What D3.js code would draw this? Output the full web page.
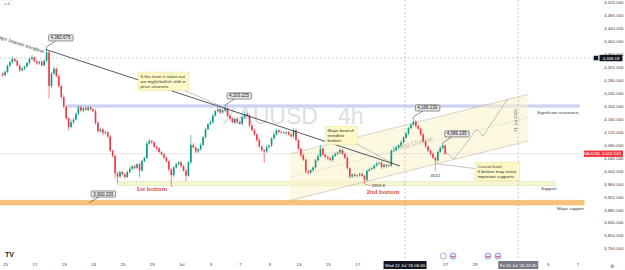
<!DOCTYPE html>
<html>
<head>
<meta charset="utf-8">
<script src="https://cdn.jsdelivr.net/npm/d3@7"></script>
<style>
html, body { margin: 0; padding: 0; background: #fff; }
svg { display: block; font-family: "Liberation Sans", Arial, sans-serif; }
</style>
</head>
<body>
<div id="chart"></div>
<script>
// ---- data (XAUUSD 4h) ----
const firstOpen = 4300;
const closes = [
  4295,4305,4325,4335,4345,4340,4325,4310,4315,4322,
  4333,4345,4350,4338,4332,4336,4326,4340,4366,4262,
  4300,4315,4292,4262,4228,4198,4162,4135,4150,4158,
  4176,4196,4186,4193,4188,4195,4190,4184,4148,4122,
  4128,4116,4119,4106,4062,4046,3992,3982,3996,3989,
  3981,3996,4006,4014,4009,4020,4001,4030,4040,4084,
  4092,4088,4074,4069,4058,4050,4040,4029,4004,3986,
  4010,4020,4026,4015,4000,3985,4026,4080,4072,4060,
  4066,4080,4104,4128,4144,4150,4170,4184,4190,4180,
  4186,4193,4170,4160,4150,4160,4150,4145,4165,4175,
  4170,4140,4125,4112,4095,4075,4064,4060,4073,4078,
  4100,4112,4125,4120,4118,4116,4119,4112,4106,4125,
  4095,4068,4048,4034,3998,3994,4002,4010,4032,4045,
  4068,4050,4042,4038,4033,4046,4052,4056,4064,4052,
  4040,4008,3982,3988,3984,3986,3990,3984,3972,4000,
  4005,4008,4016,4022,4025,4012,4018,4014,4016,4062,
  4064,4072,4078,4088,4102,4115,4132,4142,4152,4138,
  4130,4112,4090,4075,4062,4052,4040,4032,4058,4070,
  4078,4052.545
];
// wick length above / below the candle body, in dollars
const wickHi = [
  4,6,3,5,8,4,3,5,6,3, 5,4,7,3,5,4,6,3,17,4, 6,7,4,5,3,8,6,4,9,5,
  4,6,5,3,7,4,5,3,6,4, 5,3,6,4,5,3,4,6,5,4, 3,5,7,4,6,3,5,4,3,6,
  6,4,3,5,4,3,5,4,3,5, 4,6,3,5,4,5,4,30,5,3, 4,6,3,5,4,6,5,3,7,4,
  5,10,4,3,5,4,6,3,5,7, 5,4,3,5,4,6,3,4,5,3, 4,6,5,3,4,5,3,4,5,8,
  5,4,3,5,4,6,3,4,5,6, 12,4,3,5,4,3,5,4,6,3, 4,5,3,4,6,3,4,5,3,4,
  5,3,4,6,3,5,4,3,5,4, 6,3,4,5,4,5,3,4,14,5, 4,3,5,4,3,4,5,3,4,6,
  8,3
];
const wickLo = [
  5,3,4,6,3,5,4,6,3,4, 3,5,4,3,6,4,3,5,4,40, 7,4,5,6,8,5,7,10,4,6,
  3,5,4,6,3,5,4,3,6,5, 4,6,3,5,4,6,17,20,5,4, 6,4,5,3,6,4,21,5,4,3,
  4,5,3,6,4,3,5,4,6,36, 5,3,4,6,3,17,4,5,3,6, 5,3,4,5,3,4,6,3,4,5,
  3,5,4,6,3,5,4,3,5,4, 4,5,3,4,6,5,4,36,5,4, 5,4,3,6,4,3,5,4,3,5,
  4,5,6,4,5,6,3,5,4,3, 4,5,3,6,4,5,3,4,5,3, 4,5,6,4,3,5,4,3,12,5,
  4,3,5,4,3,6,4,5,3,4, 5,4,3,5,4,3,5,4,3,5, 4,5,3,6,4,5,3,10,4,3,
  4,3
];

const priceTicks = [4520,4480,4440,4400,4360,4320,4280,4240,4200,4160,4120,4080,4040,4000,3960,3920,3880,3840,3800,3760];
// trading-day index (0 = Jun 15) and its label
const dayTicks  = [0,2,4,6,8,10,12,14,16,18,20,22,24,30,32,37,39];
const dayLabels = ["15","17","19","23","25","29","Jul","3","7","9","13","15","17","27","29","5","7"];

const resistanceZone = [4195, 4205];
const supportZone = [3955, 3966];
const majorSupportZone = [3893, 3910];
const bearTrend = [[17.5, 4375], [162.5, 4015]];
const channelUpper = [[117.5, 4052], [215, 4236]];
const channelLower = [[117.5, 3908], [215, 4092]];
const projection = [[181, 4058], [184.6, 4036], [194, 4129], [196.5, 4107], [206.7, 4223]];
const priceCallouts = [
  [18, 4382.675], [91, 4203.225], [168, 4166.13], [180, 4086.195], [35.4, 3900.339]
];
const lastPrice = 4052.545;
const crossPrice = 4348.18;

// ---- chart setup ----
const W = 625, H = 270, plotBottom = 260, axisLeft = 600;
const up = "#089981", down = "#f23645";

const svg = d3.select("#chart").append("svg")
    .attr("width", W).attr("height", H);

const x = d3.scaleLinear().domain([0, 100]).range([2.6, 247.1]);   // bar index
const y = d3.scaleLinear().domain([3724.3, 4527.5]).range([plotBottom, 0]);
const xDay = d => x(6 * d + 1);

const candles = closes.map((c, i) => {
    const o = i === 0 ? firstOpen : closes[i - 1];
    return { i, o, c, h: Math.max(o, c) + wickHi[i], l: Math.min(o, c) - wickLo[i] };
});

// zones
function zone(z, b0, b1, fill, stroke) {
    svg.append("rect")
        .attr("x", x(b0)).attr("width", x(b1) - x(b0))
        .attr("y", y(z[1])).attr("height", y(z[0]) - y(z[1]))
        .attr("fill", fill).attr("stroke", stroke || "none").attr("stroke-width", 0.5);
}
zone(majorSupportZone, -2, 238, "#f6c27c");
zone(resistanceZone, 26.4, 236, "#cfd1f3");
zone(supportZone, 47, 226, "#f5f5d2", "#dcdca6");

// rising channel
const chan = [channelUpper[0], channelUpper[1], channelLower[1], channelLower[0]];
svg.append("path")
    .attr("d", d3.line().x(d => x(d[0])).y(d => y(d[1]))(chan) + "Z")
    .attr("fill", "#fbf3c8").attr("opacity", 0.55);

// crosshair / vertical markers
svg.append("line").attr("x1", 0).attr("x2", axisLeft).attr("y1", y(crossPrice)).attr("y2", y(crossPrice))
    .attr("stroke", "#9598a1").attr("stroke-width", 0.5).attr("stroke-dasharray", "2,2");
[164.6, 210.9].forEach(b => {
    svg.append("line").attr("x1", x(b)).attr("x2", x(b)).attr("y1", 0).attr("y2", plotBottom)
        .attr("stroke", "#9598a1").attr("stroke-width", 0.5).attr("stroke-dasharray", "2,2");
});
// last price line
svg.append("line").attr("x1", 0).attr("x2", axisLeft).attr("y1", y(lastPrice)).attr("y2", y(lastPrice))
    .attr("stroke", "#e3d3d6").attr("stroke-width", 0.6);

// watermark
svg.append("text").attr("x", 222).attr("y", 124).attr("font-size", 23).attr("fill", "#dcdee4").text("XAUUSD");
svg.append("text").attr("x", 338).attr("y", 124).attr("font-size", 23).attr("fill", "#dcdee4").text("4h");

// channel lines
const line = d3.line().x(d => x(d[0])).y(d => y(d[1]));
svg.append("path").attr("d", line(channelUpper)).attr("stroke", "#b8b8a8").attr("stroke-width", 0.6).attr("fill", "none");
svg.append("path").attr("d", line(channelLower)).attr("stroke", "#b8b8a8").attr("stroke-width", 0.6).attr("fill", "none");
const mid = [[channelUpper[0][0], (channelUpper[0][1] + channelLower[0][1]) / 2],
             [channelUpper[1][0], (channelUpper[1][1] + channelLower[1][1]) / 2]];
svg.append("path").attr("d", line(mid)).attr("stroke", "#b8b8a8").attr("stroke-width", 0.5)
    .attr("stroke-dasharray", "2,2").attr("fill", "none");
const chAng = Math.atan2(y(mid[1][1]) - y(mid[0][1]), x(mid[1][0]) - x(mid[0][0])) * 180 / Math.PI;
const rcB = 168, rcP = mid[0][1] + (rcB - mid[0][0]) / (mid[1][0] - mid[0][0]) * (mid[1][1] - mid[0][1]);
svg.append("text").attr("transform", `translate(${x(rcB)},${y(rcP) - 1}) rotate(${chAng})`)
    .attr("text-anchor", "middle").attr("font-size", 6).attr("fill", "#bdbdb0").text("Rising Channel");

// candles
svg.append("g").selectAll("line").data(candles).join("line")
    .attr("x1", d => x(d.i)).attr("x2", d => x(d.i))
    .attr("y1", d => y(d.h)).attr("y2", d => y(d.l))
    .attr("stroke", d => d.c >= d.o ? up : down).attr("stroke-width", 0.6);
svg.append("g").selectAll("rect").data(candles).join("rect")
    .attr("x", d => x(d.i) - 0.8).attr("width", 1.6)
    .attr("y", d => y(Math.max(d.o, d.c)))
    .attr("height", d => Math.max(0.6, Math.abs(y(d.o) - y(d.c))))
    .attr("fill", d => d.c >= d.o ? up : down);

// bearish trendline
svg.append("path").attr("d", line(bearTrend)).attr("stroke", "#2a2e39").attr("stroke-width", 0.8).attr("fill", "none");
const trAng = Math.atan2(y(bearTrend[1][1]) - y(bearTrend[0][1]), x(bearTrend[1][0]) - x(bearTrend[0][0])) * 180 / Math.PI;
svg.append("text").attr("transform", `translate(${x(bearTrend[0][0]) - 2},${y(bearTrend[0][1]) + 4}) rotate(${trAng})`)
    .attr("text-anchor", "end").attr("font-size", 5).attr("fill", "#444").text("Major bearish trendline");

// projection path
svg.append("path").attr("d", line(projection)).attr("stroke", "#8a8a8a").attr("stroke-width", 0.5).attr("fill", "none");

// zone labels
const lbl = (tx, ty, t, size, color, weight) => svg.append("text").attr("x", tx).attr("y", ty)
    .attr("font-size", size).attr("fill", color).attr("font-weight", weight || "normal").text(t);
lbl(537, y(4197) + 7, "Significant resistance", 4.4, "#333");
lbl(541, y(supportZone[0]) + 5, "Support", 4.4, "#333");
lbl(557, y(majorSupportZone[0]) + 5, "Major support", 4.4, "#333");
svg.append("text").attr("x", x(61)).attr("y", y(3937)).attr("text-anchor", "middle").attr("font-size", 6)
    .attr("font-weight", "bold").attr("fill", "#e0485b").text("1st bottom");
svg.append("text").attr("x", x(155.6)).attr("y", y(3928)).attr("text-anchor", "middle").attr("font-size", 6)
    .attr("font-weight", "bold").attr("fill", "#e0485b").text("2nd bottom");

// low markers
svg.append("line").attr("x1", x(148)).attr("y1", y(3959.8)).attr("x2", x(148) + 6).attr("y2", y(3959.8) + 2)
    .attr("stroke", "#555").attr("stroke-width", 0.4);
svg.append("text").attr("x", x(148) + 7).attr("y", y(3959.8) + 3.5).attr("font-size", 4.4).attr("fill", "#333").text("3959.8");
svg.append("line").attr("x1", x(177)).attr("y1", y(4022)).attr("x2", x(177)).attr("y2", y(4022) + 8)
    .attr("stroke", "#555").attr("stroke-width", 0.4);
svg.append("text").attr("x", x(177)).attr("y", y(4022) + 13).attr("text-anchor", "middle")
    .attr("font-size", 4.4).attr("fill", "#333").text("4022");

// price callouts
const fmt3 = d3.format(",.3f");
priceCallouts.forEach(([b, p]) => {
    const ax = x(b), ay = y(p), bx = ax + 14, by = ay - 9;
    svg.append("line").attr("x1", ax).attr("y1", ay).attr("x2", bx).attr("y2", by)
        .attr("stroke", "#444").attr("stroke-width", 0.6);
    const g = svg.append("g");
    const t = g.append("text").attr("x", bx).attr("y", by).attr("text-anchor", "middle")
        .attr("dominant-baseline", "central").attr("font-size", 4.5).attr("fill", "#222").text(fmt3(p));
    const bb = t.node().getBBox();
    g.insert("rect", "text").attr("x", bb.x - 2).attr("y", bb.y - 0.6)
        .attr("width", bb.width + 4).attr("height", bb.height + 1.2).attr("rx", 1)
        .attr("fill", "#e6e6e6").attr("stroke", "#555").attr("stroke-width", 0.6);
});

// notes
function note(b, p, lines, target) {
    const nx = x(b), ny = y(p);
    const g = svg.append("g");
    const t = g.append("text").attr("font-size", 4.4).attr("fill", "#333");
    lines.forEach((s, k) => t.append("tspan").attr("x", nx + 2.5).attr("y", ny + 5.5 + k * 5.2).text(s));
    const bb = t.node().getBBox();
    const rw = bb.width + 5, rh = lines.length * 5.2 + 3;
    svg.insert("line", () => g.node())
        .attr("x1", nx + rw / 2).attr("y1", ny + rh / 2).attr("x2", x(target[0])).attr("y2", y(target[1]))
        .attr("stroke", "#8a8a8a").attr("stroke-width", 0.5);
    g.insert("rect", "text").attr("x", nx).attr("y", ny).attr("width", rw).attr("height", rh)
        .attr("fill", "#fdf8c6").attr("stroke", "#ece39a").attr("stroke-width", 0.5);
}
note(55.4, 4305, ["If this level is taken out", "we might bullish shift in", "price structure"], [90, 4197]);
note(131.9, 4138, ["Major bearish", "trendline", "broken"], [158.5, 4027]);
note(193.2, 4027, ["Crucial level,", "If broken may retest", "important supports"], [177, 4022]);

// vertical line date text
svg.append("text").attr("transform", `translate(${x(210.9) - 1},${y(4155)}) rotate(-90)`)
    .attr("text-anchor", "middle").attr("font-size", 4.4).attr("fill", "#666").text("31 Jul 2026");

// right price axis
svg.append("rect").attr("x", axisLeft).attr("y", 0).attr("width", W - axisLeft).attr("height", H).attr("fill", "#fff");
const yAxis = svg.append("g").attr("transform", `translate(${axisLeft},0)`)
    .call(d3.axisRight(y).tickValues(priceTicks).tickFormat(fmt3).tickSize(0).tickPadding(4));
yAxis.select(".domain").remove();
yAxis.selectAll("text").attr("font-size", 4.4).attr("fill", "#444").attr("font-family", "Liberation Sans, Arial, sans-serif");

// price tags on axis
function tag(x0, w, cy, fill, txt) {
    svg.append("rect").attr("x", x0).attr("y", cy - 3.2).attr("width", w).attr("height", 6.4).attr("fill", fill);
    svg.append("text").attr("x", x0 + w / 2).attr("y", cy).attr("text-anchor", "middle").attr("dominant-baseline", "central")
        .attr("font-size", 4.3).attr("fill", "#fff").text(txt);
}
tag(584, 16, y(lastPrice), down, "XAUUSD");
tag(600, 23, y(lastPrice), down, fmt3(lastPrice));
tag(599.5, 23, y(crossPrice), "#131722", d3.format(",.2f")(crossPrice));
svg.append("rect").attr("x", 593.5).attr("y", y(crossPrice) - 2.5).attr("width", 5).attr("height", 5)
    .attr("fill", "#131722").attr("stroke", "#fff").attr("stroke-width", 0.4);

// time axis
const xAxis = svg.append("g").attr("transform", `translate(0,${plotBottom})`)
    .call(d3.axisBottom(d3.scaleLinear().domain([0, 1]).range([xDay(0), xDay(1)]))
        .tickValues(dayTicks).tickFormat((d, k) => dayLabels[k]).tickSize(0).tickPadding(3));
xAxis.select(".domain").remove();
xAxis.selectAll("text").attr("font-size", 4.4).attr("fill", "#444").attr("font-family", "Liberation Sans, Arial, sans-serif");

function timeTag(cx, w, fill, txt) {
    svg.append("rect").attr("x", cx - w / 2).attr("y", 261).attr("width", w).attr("height", 8).attr("fill", fill);
    svg.append("text").attr("x", cx).attr("y", 265.2).attr("text-anchor", "middle").attr("dominant-baseline", "central")
        .attr("font-size", 4.3).attr("fill", "#fff").text(txt);
}
timeTag(x(164.6), 43, "#131722", "Wed 22 Jul '26   06:30");
timeTag(x(210.9), 40, "#787b86", "Fri 31 Jul '26   23:30");
svg.append("text").attr("x", 612).attr("y", 266).attr("text-anchor", "middle").attr("dominant-baseline", "central")
    .attr("font-size", 5).attr("fill", "#555").text("⚙");

// events row
[[180.2, "#b27ad8"], [184.2, "#5b7fd6"], [198.5, "#5b7fd6"], [202.6, "#5b7fd6"]].forEach(([b, c], k) => {
    svg.append("circle").attr("cx", x(b)).attr("cy", 256).attr("r", 3).attr("fill", k ? "#e8e8f4" : "#fff")
        .attr("stroke", c).attr("stroke-width", 0.7);
    if (k) svg.append("rect").attr("x", x(b) - 2).attr("y", 256).attr("width", 4).attr("height", 1.2).attr("fill", "#e06070");
});

// TV logo + legend toggle
svg.append("text").attr("x", 5).attr("y", 257).attr("font-size", 7).attr("font-weight", 900).attr("fill", "#131722").text("TV");
svg.append("rect").attr("x", 1).attr("y", 0.5).attr("width", 12).attr("height", 5.5).attr("rx", 1).attr("fill", "#fff").attr("stroke", "#e0e3eb").attr("stroke-width", 0.4);
svg.append("text").attr("x", 7).attr("y", 4.5).attr("text-anchor", "middle").attr("font-size", 4).attr("fill", "#555").text("˅ 4");
</script>
</body>
</html>
